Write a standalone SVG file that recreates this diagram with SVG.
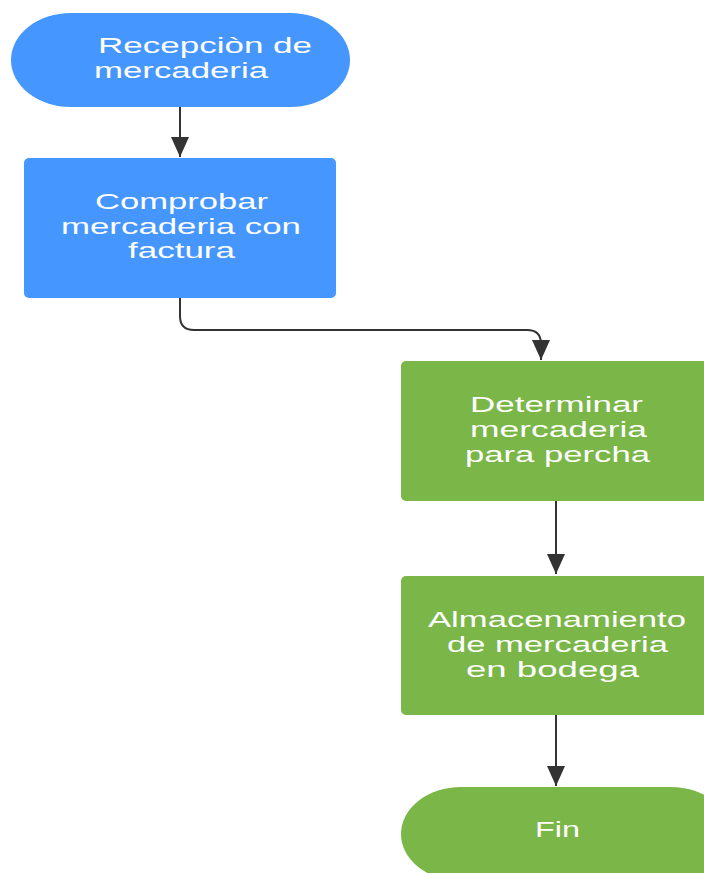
<svg xmlns="http://www.w3.org/2000/svg" width="704" height="873" viewBox="0 0 704 873">
<style>
.t{font-family:"Liberation Sans",Arial,sans-serif;font-size:21.5px;fill:#ffffff}
.blue{fill:#4596ff}
.green{fill:#7ab648}
.c{fill:none;stroke:#333333;stroke-width:2}
</style>
<defs>
<marker id="ah" viewBox="0 0 20 18" refX="20" refY="9" markerWidth="20" markerHeight="18" markerUnits="userSpaceOnUse" orient="auto">
<path d="M0,0 L20,9 L0,18 Z" fill="#333333"/>
</marker>
</defs>
<rect width="704" height="873" fill="#ffffff"/>
<g id="connectors">
<path class="c" d="M180,107 L180,157" marker-end="url(#ah)"/>
<path class="c" d="M180,298 L180,316 Q180,330 194,330 L527,330 Q541,330 541,344 L541,360" marker-end="url(#ah)"/>
<path class="c" d="M556,501 L556,574" marker-end="url(#ah)"/>
<path class="c" d="M556,715 L556,786" marker-end="url(#ah)"/>
</g>
<g id="n1">
<rect class="blue" x="11" y="13" width="339" height="94" rx="60" ry="47"/>
<text class="t" x="98" y="53" textLength="214" lengthAdjust="spacingAndGlyphs">Recepciòn de</text>
<text class="t" x="94" y="78" textLength="174" lengthAdjust="spacingAndGlyphs">mercaderia</text>
</g>
<g id="n2">
<rect class="blue" x="24" y="158" width="312" height="140" rx="5"/>
<text class="t" x="95" y="209" textLength="173" lengthAdjust="spacingAndGlyphs">Comprobar</text>
<text class="t" x="61" y="234" textLength="240" lengthAdjust="spacingAndGlyphs">mercaderia con</text>
<text class="t" x="128" y="258" textLength="107" lengthAdjust="spacingAndGlyphs">factura</text>
</g>
<g id="n3">
<rect class="green" x="401" y="361" width="310" height="140" rx="5"/>
<text class="t" x="470" y="412" textLength="173" lengthAdjust="spacingAndGlyphs">Determinar</text>
<text class="t" x="470" y="437" textLength="177" lengthAdjust="spacingAndGlyphs">mercaderia</text>
<text class="t" x="465" y="462" textLength="185" lengthAdjust="spacingAndGlyphs">para percha</text>
</g>
<g id="n4">
<rect class="green" x="401" y="576" width="310" height="139" rx="5"/>
<text class="t" x="428" y="627" textLength="258" lengthAdjust="spacingAndGlyphs">Almacenamiento</text>
<text class="t" x="447" y="652" textLength="221" lengthAdjust="spacingAndGlyphs">de mercaderia</text>
<text class="t" x="466" y="677" textLength="173" lengthAdjust="spacingAndGlyphs">en bodega</text>
</g>
<g id="n5">
<rect class="green" x="401" y="787" width="330" height="94" rx="60" ry="47"/>
<text class="t" x="535" y="837" textLength="45" lengthAdjust="spacingAndGlyphs">Fin</text>
</g>
</svg>
